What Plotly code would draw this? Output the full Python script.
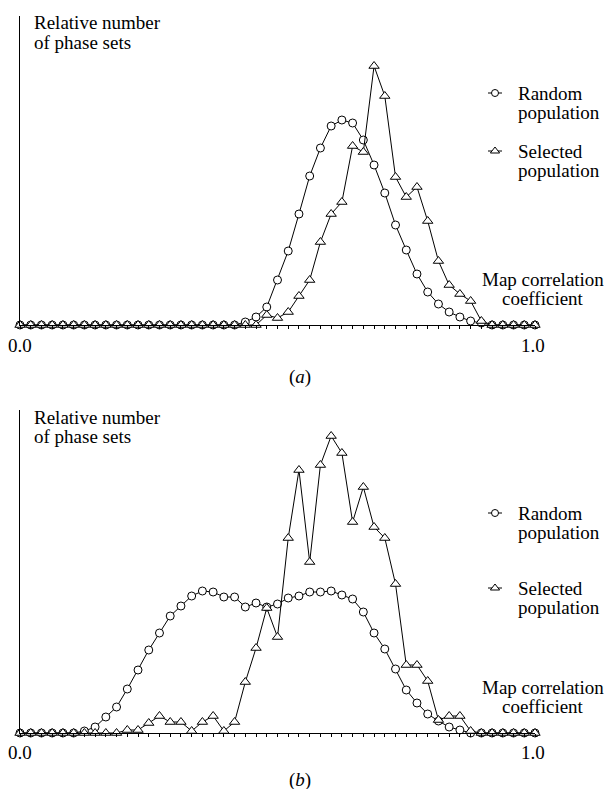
import plotly.graph_objects as go

W, H = 605, 789

# Map correlation coefficient grid (49 bins from 0.0 to 1.0)
coef = [round(i / 48, 5) for i in range(49)]

# Panel (a): relative number of phase sets
random_a = [0] * 21 + [3, 8, 18, 45, 74, 111, 149, 177, 199, 205, 202, 185, 160, 132,
                       100, 75, 51, 33, 21, 13, 8, 4, 2] + [0] * 5
selected_a = [0] * 23 + [10, 7, 13, 29, 45, 83, 111, 123, 179, 173, 259, 229, 148, 128,
                         138, 104, 64, 40, 31, 24, 4] + [0] * 5

# Panel (b)
random_b = [0] * 6 + [2, 6, 16, 26, 44, 63, 83, 100, 117, 127, 137, 142, 141, 136, 136,
                      126, 130, 126, 129, 135, 137, 141, 141, 142, 138, 134, 121, 100,
                      84, 64, 43, 30, 19, 12, 6, 3] + [0] * 7
selected_b = [0] * 10 + [3, 3, 10, 17, 11, 11, 2, 11, 17, 2, 11, 51, 85, 125, 96, 195,
                         263, 171, 268, 297, 280, 211, 246, 206, 195, 149, 68, 68, 52,
                         13, 17, 17, 2] + [0] * 6

FONT = "Liberation Serif, Times New Roman, serif"
FS = 19


def px(x):
    return x / W


def py(y):
    return 1 - y / H


fig = go.Figure()

panels = [
    ("x", "y", random_a, selected_a),
    ("x2", "y2", random_b, selected_b),
]
for xa, ya, rnd, sel in panels:
    fig.add_trace(go.Scatter(
        x=coef, y=rnd, xaxis=xa, yaxis=ya, mode="lines+markers",
        line=dict(color="black", width=1),
        marker=dict(symbol="circle", size=8, color="white",
                    line=dict(color="black", width=1)),
        cliponaxis=False, showlegend=False))
    fig.add_trace(go.Scatter(
        x=coef, y=sel, xaxis=xa, yaxis=ya, mode="lines+markers",
        line=dict(color="black", width=1),
        marker=dict(symbol="triangle-up", size=9, color="white",
                    line=dict(color="black", width=1)),
        cliponaxis=False, showlegend=False))

# geometry (pixels)
X0, X1 = 20, 535
TOP_A, BASE_A = 16, 325
TOP_B, BASE_B = 410, 733

xcommon = dict(range=[0, 1], showgrid=False, zeroline=False, showline=True,
               linecolor="black", linewidth=1, ticks="outside", ticklen=3,
               tickwidth=1, tickcolor="black", tickvals=coef,
               showticklabels=False)
ycommon = dict(showgrid=False, zeroline=False, showline=True, linecolor="black",
               linewidth=1, ticks="", showticklabels=False)

fig.update_layout(
    width=W, height=H, margin=dict(l=0, r=0, t=0, b=0),
    paper_bgcolor="white", plot_bgcolor="rgba(0,0,0,0)",
    font=dict(family=FONT, size=FS, color="black"),
    xaxis=dict(domain=[px(X0), px(X1)], anchor="y", **xcommon),
    yaxis=dict(domain=[py(BASE_A), py(TOP_A)], anchor="x",
               range=[0, BASE_A - TOP_A], **ycommon),
    xaxis2=dict(domain=[px(X0), px(X1)], anchor="y2", **xcommon),
    yaxis2=dict(domain=[py(BASE_B), py(TOP_B)], anchor="x2",
                range=[0, BASE_B - TOP_B], **ycommon),
    xaxis3=dict(domain=[0, 1], range=[0, W], visible=False, anchor="y3"),
    yaxis3=dict(domain=[0, 1], range=[H, 0], visible=False, anchor="x3"),
)


# legend symbols (drawn in a pixel overlay)
def legend_symbol(cx, cy, symbol, size):
    fig.add_trace(go.Scatter(
        x=[cx - 7, cx + 7], y=[cy, cy], xaxis="x3", yaxis="y3", mode="lines",
        line=dict(color="black", width=1), showlegend=False, hoverinfo="skip"))
    fig.add_trace(go.Scatter(
        x=[cx], y=[cy], xaxis="x3", yaxis="y3", mode="markers",
        marker=dict(symbol=symbol, size=size, color="white",
                    line=dict(color="black", width=1)),
        showlegend=False, hoverinfo="skip"))


ann = []


def text(x, y, s, xanchor="left", size=FS):
    ann.append(dict(x=px(x), y=py(y), xref="paper", yref="paper", text=s,
                    showarrow=False, xanchor=xanchor, yanchor="middle",
                    font=dict(family=FONT, size=size, color="black")))


LS = 19  # line spacing for two-line labels
for top, leg_r, leg_s, map_y, tick_y, cap_y, lab in [
    (TOP_A, 93, 151, 279, 345, 377, "(<i>a</i>)"),
    (TOP_B, 513, 588, 687, 752, 780, "(<i>b</i>)"),
]:
    text(32, top + 7, "Relative number")
    text(32, top + 7 + LS, "of phase sets")
    legend_symbol(495, leg_r, "circle", 7)
    legend_symbol(495, leg_s, "triangle-up", 8)
    text(516, leg_r, "Random")
    text(516, leg_r + LS, "population")
    text(516, leg_s, "Selected")
    text(516, leg_s + LS, "population")
    text(543, map_y, "Map correlation", xanchor="center")
    text(543, map_y + LS, "coefficient", xanchor="center")
    text(20, tick_y, "0.0", xanchor="center")
    text(533, tick_y, "1.0", xanchor="center")
    text(300, cap_y, lab, xanchor="center")

fig.update_layout(annotations=ann)

fig.write_html("out.html")
